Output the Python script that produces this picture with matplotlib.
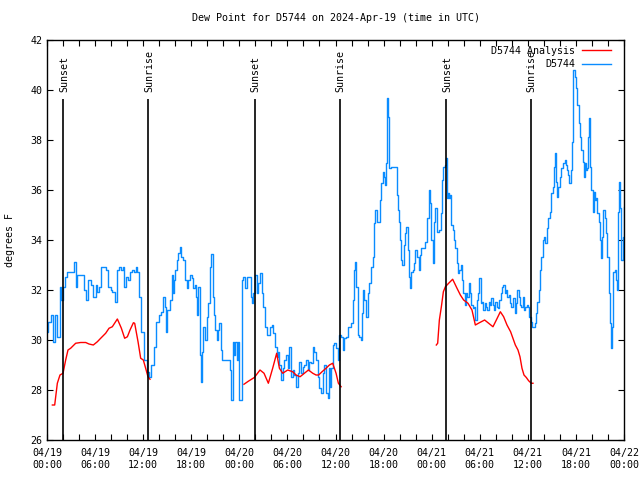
import numpy as np
import matplotlib
matplotlib.use("Agg")
import matplotlib.pyplot as plt

# time axis: hours since 04/19 00:00 UTC
tick_hours = [0, 6, 12, 18, 24, 30, 36, 42, 48, 54, 60, 66, 72]
tick_labels = ["04/19\n00:00", "04/19\n06:00", "04/19\n12:00", "04/19\n18:00",
               "04/20\n00:00", "04/20\n06:00", "04/20\n12:00", "04/20\n18:00",
               "04/21\n00:00", "04/21\n06:00", "04/21\n12:00", "04/21\n18:00",
               "04/22\n00:00"]

sun_hours = [2.04, 12.65, 25.9, 36.5, 49.8, 60.4]
sun_labels = ["Sunset", "Sunrise", "Sunset", "Sunrise", "Sunset", "Sunrise"]

# D5744 observations
obs_hours = [
    0.0, 0.12, 0.46, 0.71, 0.96, 1.29, 1.50, 1.62, 1.79, 2.04, 2.21, 2.54, 3.16, 3.37, 3.62,
    3.79, 4.41, 4.62, 4.87, 5.12, 5.45, 5.70, 5.95, 6.11, 6.28, 6.49, 6.70, 7.32, 7.61, 7.94,
    8.15, 8.44, 8.69, 8.99, 9.28, 9.44, 9.61, 9.86, 10.11, 10.36, 10.65, 10.86, 11.11, 11.27,
    11.48, 11.77, 12.10, 12.44, 12.69, 12.94, 13.35, 13.64, 13.98, 14.27, 14.52,
    14.72, 14.85, 15.02, 15.35, 15.56, 15.68, 15.85, 15.97, 16.18, 16.39, 16.6, 16.76, 17.01,
    17.22, 17.43, 17.64, 17.84, 18.05, 18.26, 18.43, 18.59, 18.76, 18.88, 19.09, 19.22, 19.34,
    19.51, 19.72, 19.92, 20.13, 20.34, 20.51, 20.67, 20.84, 21.01, 21.17, 21.38, 21.5, 21.67,
    21.8, 22.42, 22.84, 23.0, 23.17, 23.34, 23.5, 23.67, 23.83, 24.0, 24.25, 24.33, 24.5,
    24.67, 24.92, 25.25, 25.42, 25.58, 25.75, 25.96, 26.16, 26.37, 26.58, 26.79, 27.0, 27.2,
    27.41, 27.62, 27.83, 28.04, 28.24, 28.45, 28.66, 28.87,
    29.0, 29.2, 29.41, 29.62, 29.83, 30.04, 30.24, 30.45, 30.66, 30.87, 31.08, 31.28, 31.49,
    31.7, 31.91, 32.12, 32.32, 32.53, 32.74, 32.95, 33.16, 33.36, 33.57, 33.78, 33.99, 34.2,
    34.4, 34.61, 34.82, 35.03, 35.15, 35.32, 35.49, 35.65, 35.86, 36.07, 36.28, 36.48, 36.69,
    36.9, 37.11, 37.32, 37.52, 37.94, 38.15, 38.36, 38.48, 38.61, 38.77, 38.98, 39.19, 39.31,
    39.48, 39.6, 39.81, 40.02, 40.23, 40.44, 40.64, 40.85, 40.98, 41.14, 41.39, 41.56, 41.73,
    41.89, 42.1, 42.22, 42.31, 42.43, 42.6, 42.72, 42.93,
    43.47, 43.63, 43.8, 43.97, 44.09, 44.21, 44.34, 44.51, 44.63, 44.8, 44.96, 45.05, 45.21,
    45.34, 45.46, 45.63, 45.8, 45.96, 46.17, 46.38, 46.5, 46.71, 47.0, 47.21, 47.42, 47.63,
    47.79, 47.96, 48.13, 48.29, 48.46, 48.62, 48.87, 49.12, 49.29, 49.46, 49.62, 49.75, 49.87,
    50.0, 50.12, 50.29, 50.45, 50.62, 50.79, 50.95, 51.12, 51.29, 51.45, 51.62, 51.79, 51.95,
    52.12, 52.29, 52.45, 52.62, 52.78, 52.95, 53.12, 53.28, 53.45, 53.62, 53.78, 53.95, 54.12,
    54.28, 54.45, 54.61, 54.78, 54.95, 55.11, 55.28, 55.45, 55.61, 55.78, 55.95, 56.11, 56.28,
    56.45, 56.61, 56.78, 56.94, 57.11, 57.28, 57.44, 57.61, 57.82,
    57.94, 58.14, 58.35, 58.56, 58.68, 58.85, 59.02, 59.18, 59.35, 59.52, 59.68, 59.85, 60.02,
    60.18, 60.35, 60.52, 60.68, 60.85, 61.01, 61.18, 61.35, 61.51, 61.68, 61.85, 62.01, 62.18,
    62.35, 62.51, 62.72, 62.93, 63.09, 63.26, 63.43, 63.55, 63.68, 63.8, 63.97, 64.18, 64.38,
    64.59, 64.72, 64.84, 65.01, 65.17, 65.34, 65.47, 65.59, 65.67, 65.84, 66.01, 66.17, 66.34,
    66.51, 66.67, 66.84, 67.0, 67.13, 67.25, 67.42, 67.55, 67.67, 67.8, 67.92, 68.09, 68.21,
    68.34, 68.5, 68.67, 68.84, 69.0, 69.13, 69.25, 69.42, 69.58, 69.75, 69.92, 70.08, 70.25,
    70.42, 70.54, 70.67, 70.83, 71.0, 71.17, 71.29, 71.42, 71.54, 71.67, 71.84, 72.0]
obs_dewpt = [
    30.3, 30.7, 31.0, 29.9, 31.0, 30.1, 30.1, 32.1, 31.6, 32.1, 32.5, 32.7, 32.7, 33.1, 32.1,
    32.6, 32.6, 32.0, 31.6, 32.4, 32.2, 31.7, 31.7, 32.2, 31.9, 32.1, 32.9, 32.8, 32.1, 32.0,
    31.9, 31.5, 32.8, 32.9, 32.8, 32.9, 32.1, 32.5, 32.4, 32.7, 32.8, 32.7, 32.9, 32.7,
    31.7, 30.3, 29.2, 28.7, 28.5, 29.0, 29.7, 30.7, 31.0, 31.1, 31.7,
    31.33, 30.33, 31.2, 31.6, 32.6, 31.87, 32.4, 32.8, 33.2, 33.47, 33.7, 33.33, 33.2,
    32.4, 32.07, 32.4, 32.6, 32.47, 32.07, 32.2, 31.73, 31.0, 32.13, 29.4, 28.33, 29.53,
    30.53, 30.0, 30.93, 31.47, 32.93, 33.44, 31.73, 31.0, 30.4, 30.0, 30.4, 30.67, 29.6,
    29.2, 29.2, 28.8, 27.6, 29.93, 29.4, 29.93, 29.2, 29.93, 27.6, 27.6, 32.4, 32.53,
    32.07, 32.53, 32.53, 31.73, 31.47, 31.87, 32.6, 31.87, 32.27, 32.67, 31.87, 31.33, 30.53,
    30.2, 30.2, 30.53, 30.6, 30.27, 29.73, 29.33, 29.53,
    29.0, 28.4, 28.87, 29.2, 29.4, 28.87, 29.73, 28.53, 28.8, 28.6, 28.13, 28.67, 29.13,
    28.67, 28.93, 29.0, 29.2, 28.8, 29.13, 29.07, 29.73, 29.53, 29.2, 28.53, 28.07, 27.87,
    28.67, 29.0, 27.87, 27.67, 28.87, 28.13, 28.87, 29.8, 29.87, 29.67, 29.2, 30.2, 30.13,
    29.6, 30.07, 30.13, 30.53, 30.67, 31.6, 32.8, 33.13, 32.13, 30.2, 30.13, 30.0, 31.07,
    32.0, 31.6, 30.93, 31.87, 32.27, 32.93, 33.33, 34.67, 35.2, 34.73, 34.73, 35.6, 36.27,
    36.73, 36.53, 36.2, 37.07, 39.67, 38.93, 36.87, 36.93,
    36.93, 35.8, 35.2, 34.73, 34.0, 33.2, 33.0, 33.8, 34.27, 34.53, 34.53, 33.6, 32.53,
    32.07, 32.73, 32.8, 33.07, 33.6, 33.33, 32.8, 33.4, 33.67, 33.67, 33.93, 34.87, 36.0,
    35.47, 34.0, 33.07, 34.73, 35.27, 34.33, 34.4, 35.07, 36.4, 36.93, 37.0, 37.27, 35.67,
    35.87, 35.67, 35.8, 34.6, 34.4, 34.0, 33.67, 33.07, 32.67, 32.8, 33.0, 32.4, 31.87,
    31.4, 31.87, 31.73, 32.27, 31.87, 31.4, 31.27, 31.33, 30.8, 31.6, 31.87, 32.47, 31.47,
    31.53, 31.2, 31.47, 31.33, 31.2, 31.53, 31.4, 31.67, 31.4, 31.2, 31.53, 31.33, 31.27,
    31.6, 31.87, 32.13, 32.2, 31.87, 32.0, 31.73, 31.8, 31.47,
    31.33, 31.67, 31.07, 31.47, 32.0, 31.73, 31.4, 31.33, 31.73, 31.2, 31.33, 31.4, 31.33,
    30.93, 30.73, 30.53, 30.53, 30.67, 31.07, 31.53, 32.0, 32.8, 33.33, 34.0, 34.13, 33.87,
    34.47, 34.87, 35.13, 35.87, 36.13, 36.93, 37.47, 36.33, 35.73, 36.13, 36.53, 36.87, 37.07,
    37.2, 37.0, 36.8, 36.6, 36.27, 36.8, 37.93, 39.33, 40.8, 40.53, 40.07, 39.4, 38.67,
    38.13, 37.6, 37.13, 36.53, 37.07, 36.8, 36.87, 38.13, 38.87, 36.93, 36.0, 35.13, 35.93,
    35.6, 35.67, 35.07, 34.73, 34.0, 33.27, 34.13, 35.2, 34.87, 34.27, 33.33, 31.87, 30.67,
    29.67, 30.53, 32.73, 32.8, 32.4, 32.0, 35.13, 36.33, 35.27, 33.2, 34.13, 35.33]

# D5744 Analysis (three runs, nan = gap)
ana_hours = [
    0.67, 0.96, 1.29, 1.62, 2.0, 2.33, 2.62, 2.95, 3.58, 4.2, 4.83, 5.24, 5.78, 6.28, 6.70,
    7.32, 7.74, 8.15, 8.78, 9.28, 9.69, 10.03, 10.36, 10.78, 10.94, 11.36, 11.69, 12.02,
    12.31, 12.6, 12.85, 13.0,
    24.58, 25.12, 25.87, 26.58, 27.08, 27.62, 28.16, 28.66, 29.0, 29.41, 30.04, 30.66,
    31.08, 31.58, 32.12, 32.62, 33.16, 33.57, 33.9, 34.32, 34.82, 35.24, 35.65, 36.07,
    36.36, 36.7, 37.0,
    48.58, 48.75, 48.96, 49.21, 49.46, 49.71, 50.12, 50.62, 51.16, 51.58, 51.99, 52.53,
    53.03, 53.45, 53.95, 54.61, 55.11, 55.65, 56.07, 56.57, 56.98, 57.4, 57.85, 58.14,
    58.44, 58.77, 59.02, 59.27, 59.52, 59.81, 60.1, 60.43, 60.64]
ana_dewpt = [
    27.4, 27.4, 28.27, 28.6, 28.67, 29.2, 29.6, 29.67, 29.87, 29.9, 29.9, 29.84, 29.8, 29.93,
    30.07, 30.27, 30.47, 30.53, 30.84, 30.47, 30.07, 30.13, 30.4, 30.69, 30.67, 29.93,
    29.27, 29.2, 28.87, 28.53, 28.43, np.nan,
    28.23, 28.35, 28.5, 28.8, 28.67, 28.27, 28.87, 29.47, 28.87, 28.67, 28.8, 28.73, 28.6,
    28.53, 28.67, 28.8, 28.67, 28.6, 28.6, 28.73, 28.87, 29.0, 29.07, 28.67, 28.27, 28.13,
    np.nan,
    29.8, 29.87, 30.8, 31.33, 31.93, 32.13, 32.27, 32.43, 32.07, 31.8, 31.6, 31.47, 31.2,
    30.6, 30.69, 30.8, 30.67, 30.53, 30.8, 31.13, 30.93, 30.6, 30.33, 30.07, 29.8, 29.6,
    29.33, 28.87, 28.6, 28.5, 28.37, 28.27, 28.27]

plt.rcParams['font.family'] = ['DejaVu Sans Mono']
plt.rcParams['font.size'] = 7.2

fig = plt.figure(figsize=(6.4, 4.8), dpi=100)
ax = fig.add_axes([47 / 640, 40 / 480, 577 / 640, 400 / 480])

ana_line, = ax.plot(ana_hours, ana_dewpt, color='#ff0000', lw=1.0, zorder=3,
                    label='D5744 Analysis')
obs_line, = ax.plot(obs_hours, obs_dewpt, color='#0a8cff', lw=1.0, zorder=2,
                    drawstyle='steps-post', label='D5744')

for h, lab in zip(sun_hours, sun_labels):
    ax.vlines(h, 26, 39.63, color='black', lw=1.2, zorder=4)
    ax.text(h + 0.1, 39.92, lab, rotation=90, ha='center', va='bottom')

ax.set_xlim(0, 72)
ax.set_ylim(26, 42)
ax.set_xticks(tick_hours)
ax.set_xticklabels(tick_labels)
ax.set_xticks(np.arange(0, 73, 2), minor=True)
ax.set_yticks(np.arange(26, 43, 2))
ax.tick_params(which='both', direction='in', top=True, right=True, length=4, width=0.8)
ax.tick_params(axis='x', pad=6)
for s in ax.spines.values():
    s.set_linewidth(1.0)

ax.set_title('Dew Point for D5744 on 2024-Apr-19 (time in UTC)', fontsize=7.2, pad=14)
ax.set_ylabel('degrees F')
ax.yaxis.set_label_coords(-0.056, 0.5)

ax.legend(handles=[ana_line, obs_line], loc='upper right',
          bbox_to_anchor=(1 - 7 / 577, 1), frameon=False,
          markerfirst=False, handlelength=2.9, handletextpad=0.7, labelspacing=0.35,
          borderaxespad=0.2)

fig.savefig('out.png', dpi=100)
